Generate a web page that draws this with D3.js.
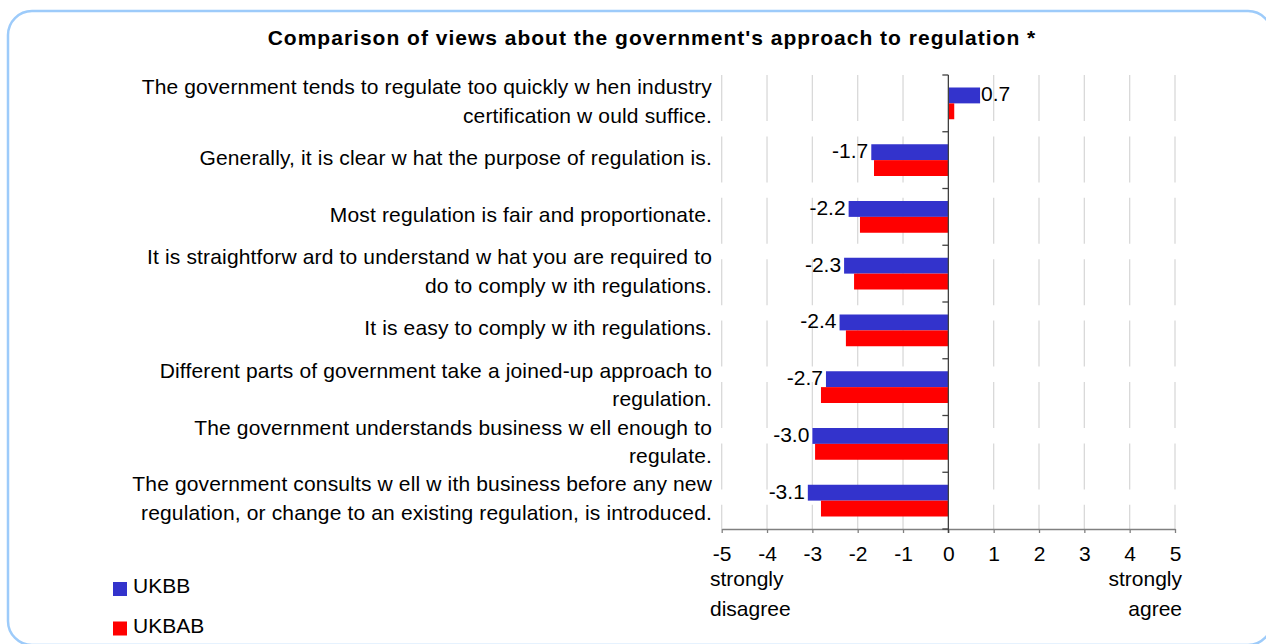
<!DOCTYPE html>
<html>
<head>
<meta charset="utf-8">
<script src="https://cdn.jsdelivr.net/npm/d3@7"></script>
<style>
  html, body { margin: 0; padding: 0; background: #fff; }
  svg { display: block; font-family: "Liberation Sans", Arial, sans-serif; }
</style>
</head>
<body>
<svg id="chart" width="1266" height="644"></svg>
<script>
// Statements, top to bottom; "\n" marks a line break in the label
const categories = [
  "The government tends to regulate too quickly w hen industry\ncertification w ould suffice.",
  "Generally, it is clear w hat the purpose of regulation is.",
  "Most regulation is fair and proportionate.",
  "It is straightforw ard to understand w hat you are required to\ndo to comply w ith regulations.",
  "It is easy to comply w ith regulations.",
  "Different parts of government take a joined-up approach to\nregulation.",
  "The government understands business w ell enough to\nregulate.",
  "The government consults w ell w ith business before any new\nregulation, or change to an existing regulation, is introduced."
];
const seriesNames = ["UKBB", "UKBAB"];
const ukbb  = [0.7, -1.7, -2.2, -2.3, -2.4, -2.7, -3.0, -3.1];
const ukbab = [0.13, -1.64, -1.95, -2.08, -2.26, -2.81, -2.94, -2.81];
const xTicks = [-5, -4, -3, -2, -1, 0, 1, 2, 3, 4, 5];
const scaleEnds = ["strongly\ndisagree", "strongly\nagree"];
const title = "Comparison of views about the government's approach to regulation *";

const colors = { UKBB: "#3333CC", UKBAB: "#FF0000" };
const font = 21;

const svg = d3.select("#chart");

// rounded frame
svg.append("rect")
  .attr("x", 8).attr("y", 11)
  .attr("width", 1264).attr("height", 634)
  .attr("rx", 24).attr("ry", 24)
  .attr("fill", "#fff")
  .attr("stroke", "#9DCBFA").attr("stroke-width", 2.5);

// title
svg.append("text")
  .attr("x", 652).attr("y", 45)
  .attr("text-anchor", "middle")
  .attr("font-size", font).attr("font-weight", "bold")
  .attr("letter-spacing", "1px")
  .attr("fill", "#000")
  .text(title);

const plot = { left: 721.7, right: 1175, top: 75, bottom: 529 };

const x = d3.scaleLinear().domain([-5, 5]).range([plot.left, plot.right]);
const y = d3.scaleBand().domain(d3.range(categories.length))
  .range([plot.top, plot.bottom]).paddingInner(0).paddingOuter(0);
const ySeries = d3.scaleBand().domain(seriesNames)
  .range([12.5, y.bandwidth() - 12.5]).padding(0);

// vertical gridlines
svg.append("g").selectAll("line")
  .data(xTicks.filter(d => d !== 0))
  .join("line")
  .attr("x1", d => x(d)).attr("x2", d => x(d))
  .attr("y1", plot.top).attr("y2", plot.bottom)
  .attr("stroke", "#D9D9D9").attr("stroke-width", 1.3)
  .attr("stroke-dasharray", "46,15.4");

// bars
const rows = categories.map((c, i) => ({ i, UKBB: ukbb[i], UKBAB: ukbab[i] }));
const barG = svg.append("g");
seriesNames.forEach(s => {
  barG.selectAll(null)
    .data(rows)
    .join("rect")
    .attr("x", d => x(Math.min(0, d[s])))
    .attr("width", d => Math.abs(x(d[s]) - x(0)))
    .attr("y", d => y(d.i) + ySeries(s))
    .attr("height", ySeries.bandwidth())
    .attr("fill", colors[s]);
});

// bottom value axis
const xAxis = svg.append("g")
  .attr("transform", `translate(0,${plot.bottom})`)
  .call(d3.axisBottom(x).tickValues(xTicks).tickSize(4).tickSizeOuter(0).tickPadding(13)
    .tickFormat(d3.format("d")));
xAxis.select(".domain").attr("stroke", "#808080").attr("stroke-width", 1.3);
xAxis.selectAll(".tick line").attr("stroke", "#808080").attr("stroke-width", 1.3);
xAxis.selectAll(".tick text")
  .attr("font-size", font).attr("font-family", "Liberation Sans, Arial, sans-serif")
  .attr("fill", "#000")
  .text(d => d < 0 ? "-" + Math.abs(d) : d);

// category axis at zero
const zx = x(0);
svg.append("line")
  .attr("x1", zx).attr("x2", zx)
  .attr("y1", plot.top).attr("y2", plot.bottom + 4)
  .attr("stroke", "#404040").attr("stroke-width", 1.3);
const edges = d3.range(categories.length + 1).map(i =>
  i < categories.length ? y(i) : y(i - 1) + y.bandwidth());
svg.append("g").selectAll("line")
  .data(edges).join("line")
  .attr("x1", zx - 6).attr("x2", zx)
  .attr("y1", d => d).attr("y2", d => d)
  .attr("stroke", "#404040").attr("stroke-width", 1.3);

// category labels
const lineH = 28.5;
svg.append("g").selectAll("text")
  .data(categories)
  .join("text")
  .attr("text-anchor", "end")
  .attr("font-size", font)
  .attr("letter-spacing", "0.15px")
  .attr("fill", "#000")
  .each(function (c, i) {
    const lines = c.split("\n");
    const cy = y(i) + y.bandwidth() / 2;
    d3.select(this).selectAll("tspan")
      .data(lines).join("tspan")
      .attr("x", 712)
      .attr("y", (l, j) => cy + 5 + (j - (lines.length - 1) / 2) * lineH)
      .text(l => l);
  });

// value labels on the UKBB bars
svg.append("g").selectAll("text")
  .data(rows)
  .join("text")
  .attr("font-size", font)
  .attr("fill", "#000")
  .attr("text-anchor", d => d.UKBB < 0 ? "end" : "start")
  .attr("x", d => d.UKBB < 0 ? x(d.UKBB) - 3 : x(d.UKBB) + 1)
  .attr("y", d => y(d.i) + ySeries("UKBB") + ySeries.bandwidth() / 2 + 6)
  .text(d => d.UKBB.toFixed(1));

// scale end captions
scaleEnds.forEach((t, k) => {
  const lines = t.split("\n");
  svg.append("text")
    .attr("font-size", font).attr("fill", "#000")
    .attr("text-anchor", k === 0 ? "start" : "end")
    .selectAll("tspan").data(lines).join("tspan")
    .attr("x", k === 0 ? 710 : 1182)
    .attr("y", (l, j) => 586 + j * 30)
    .text(l => l);
});

// legend
const legend = svg.append("g").selectAll("g")
  .data(seriesNames).join("g")
  .attr("transform", (d, i) => `translate(113,${582 + i * 39.5})`);
legend.append("rect")
  .attr("width", 14).attr("height", 14)
  .attr("fill", d => colors[d]);
legend.append("text")
  .attr("x", 20).attr("y", 11)
  .attr("font-size", font).attr("fill", "#000")
  .text(d => d);
</script>
</body>
</html>
